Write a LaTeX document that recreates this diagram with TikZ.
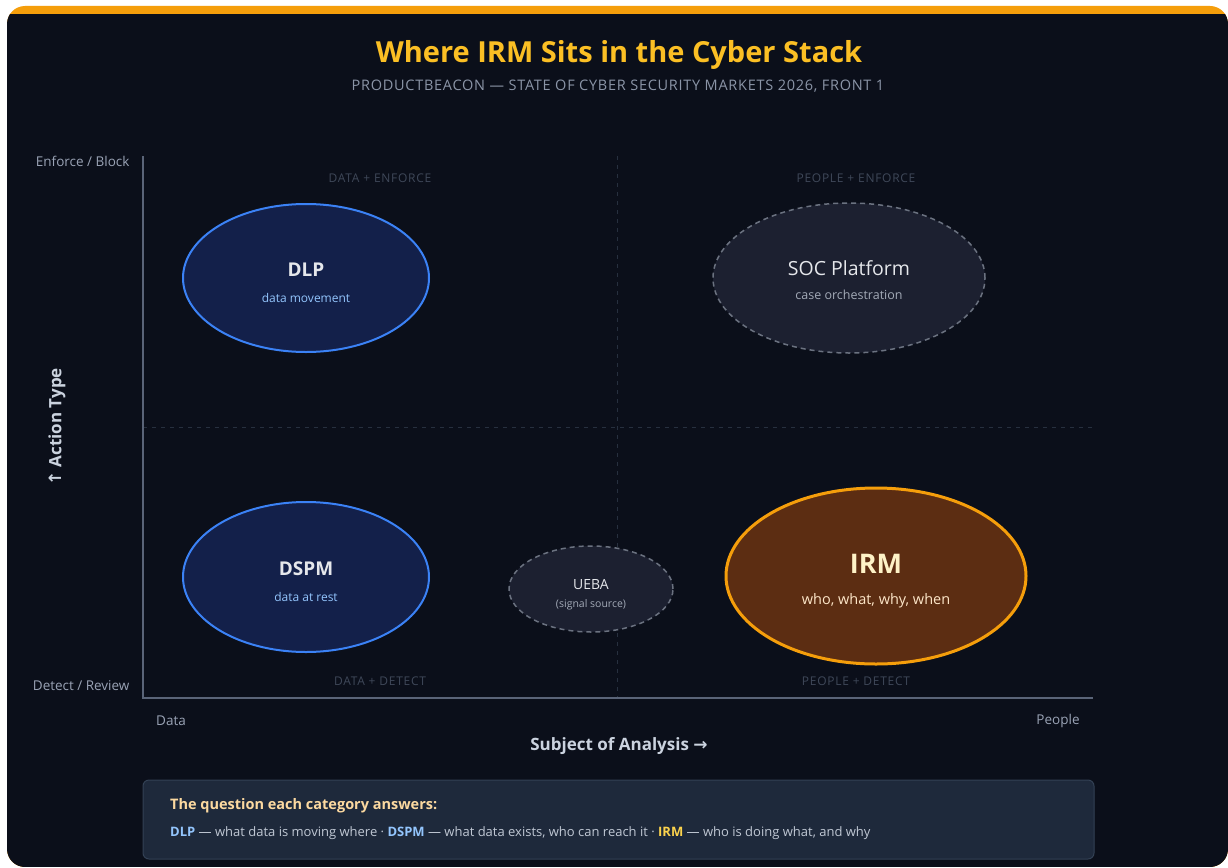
\documentclass[tikz,border=0pt]{standalone}
\usepackage{fontspec}
\setmainfont{Open Sans}
\newfontfamily\arrowfont{DejaVu Sans}
\usetikzlibrary{shapes.geometric}
\definecolor{cardbg}{HTML}{0B0F1A}
\definecolor{accent}{HTML}{F59E0B}
\definecolor{titlecol}{HTML}{FBBF24}
\definecolor{subcol}{HTML}{8B95A7}
\definecolor{axiscol}{HTML}{5A6478}
\definecolor{gridcol}{HTML}{27303F}
\definecolor{axlab}{HTML}{9AA3B5}
\definecolor{axtitle}{HTML}{CBD3DF}
\definecolor{quadcol}{HTML}{3F4859}
\definecolor{navyfill}{HTML}{13204A}
\definecolor{bluestroke}{HTML}{3B82F6}
\definecolor{lightblue}{HTML}{93C5FD}
\definecolor{grayfill}{HTML}{1C2030}
\definecolor{graystroke}{HTML}{6B7280}
\definecolor{graytext}{HTML}{A3AAB7}
\definecolor{headtext}{HTML}{E5E7EB}
\definecolor{brownfill}{HTML}{5C2D12}
\definecolor{cream}{HTML}{FEF3C7}
\definecolor{creamsub}{HTML}{FDE6C8}
\definecolor{boxfill}{HTML}{1E293B}
\definecolor{boxstroke}{HTML}{334155}
\definecolor{peach}{HTML}{FCD9A0}
\definecolor{boxtext}{HTML}{C0C8D4}
\definecolor{irmtext}{HTML}{FCD34D}
\tikzset{
  bubble/.style={ellipse, inner sep=0pt},
  bluebubble/.style={bubble, fill=navyfill, draw=bluestroke, line width=2pt},
  graybubble/.style={bubble, fill=grayfill, draw=graystroke, line width=1.5pt, dash pattern=on 5pt off 4pt},
  quad/.style={text=quadcol, font=\fontsize{12}{12}\selectfont\addfontfeatures{LetterSpace=6}},
  axlabel/.style={text=axlab, font=\fontsize{13.5}{14}\selectfont},
  midline/.style={draw=gridcol, line width=1pt, dash pattern=on 4pt off 5pt},
  axisline/.style={draw=axiscol, line width=2pt},
}
\begin{document}
\begin{tikzpicture}[x=1pt,y=-1pt]
\useasboundingbox (0,0) rectangle (1228,867);
\fill[white] (0,0) rectangle (1228,867);
\begin{scope}
  \clip[rounded corners=18pt] (7,6) rectangle (1228,867);
  \fill[accent] (0,0) rectangle (1228,867);
  \fill[cardbg] (0,14) rectangle (1228,867);
\end{scope}

% title
\node[text=titlecol, font=\fontsize{29}{30}\selectfont\bfseries] (title) at (619,55) {Where IRM Sits in the Cyber Stack};
\node[text=subcol, font=\fontsize{14.5}{15}\selectfont\addfontfeatures{LetterSpace=5}] (subtitle) at (618,86) {PRODUCTBEACON — STATE OF CYBER SECURITY MARKETS 2026, FRONT 1};

% grid
\coordinate (vtop) at (617,156);
\coordinate (vbot) at (617,698);
\coordinate (hl) at (143,427);
\coordinate (hr) at (1093,427);
\draw[midline] (vtop) -- (vbot);
\draw[midline] (hl) -- (hr);
\coordinate (ytop) at (143,156);
\coordinate (orig) at (143,698);
\coordinate (xend) at (1093,698);
\draw[axisline] (ytop) -- (orig) -- (xend);

% axis labels
\node[axlabel, anchor=east] (enf) at (133,161) {Enforce / Block};
\node[axlabel, anchor=east] (det) at (133,686) {Detect / Review};
\node[text=axtitle, font=\fontsize{17}{17}\selectfont\bfseries, rotate=90] (ytitle) at (57,427) {{\arrowfont ↑} Action Type};
\node[axlabel] (xdata) at (171,721) {Data};
\node[axlabel] (xpeople) at (1058,721) {People};
\node[text=axtitle, font=\fontsize{17}{17}\selectfont\bfseries] (xtitle) at (619,746) {Subject of Analysis {\arrowfont →}};

% quadrant labels
\node[quad] (q1) at (380,178) {DATA + ENFORCE};
\node[quad] (q2) at (856,178) {PEOPLE + ENFORCE};
\node[quad] (q3) at (380,681) {DATA + DETECT};
\node[quad] (q4) at (856,681) {PEOPLE + DETECT};

% bubbles
\node[bluebubble, minimum width=246pt, minimum height=148pt] (dlp) at (306,278) {};
\node[text=headtext, font=\fontsize{19}{19}\selectfont\bfseries] (dlpT) at (306,270) {DLP};
\node[text=lightblue, font=\fontsize{12}{12}\selectfont] (dlpS) at (306,298) {data movement};

\node[graybubble, minimum width=272pt, minimum height=150pt] (soc) at (849,278) {};
\node[text=headtext, font=\fontsize{19.5}{20}\selectfont] (socT) at (849,268) {SOC Platform};
\node[text=graytext, font=\fontsize{12.5}{13}\selectfont] (socS) at (849,295) {case orchestration};

\node[bluebubble, minimum width=246pt, minimum height=150pt] (dspm) at (306,577) {};
\node[text=headtext, font=\fontsize{19}{19}\selectfont\bfseries] (dspmT) at (306,569) {DSPM};
\node[text=lightblue, font=\fontsize{12}{12}\selectfont] (dspmS) at (306,597) {data at rest};

\node[graybubble, minimum width=164pt, minimum height=86pt] (ueba) at (591,589) {};
\node[text=headtext, font=\fontsize{14}{14}\selectfont] (uebaT) at (591,585) {UEBA};
\node[text=graytext, font=\fontsize{10.5}{11}\selectfont] (uebaS) at (591,605) {(signal source)};

\node[bubble, fill=brownfill, draw=accent, line width=3pt, minimum width=300pt, minimum height=176pt] (irm) at (876,576) {};
\node[text=cream, font=\fontsize{27}{27}\selectfont\bfseries] (irmT) at (876,564) {IRM};
\node[text=creamsub, font=\fontsize{14.5}{15}\selectfont] (irmS) at (876,601) {who, what, why, when};

% bottom box
\node[draw=boxstroke, fill=boxfill, line width=1pt, rounded corners=6pt, minimum width=951pt, minimum height=79pt, inner sep=0pt] (box) at (618.5,819.5) {};
\node[anchor=west, inner sep=0pt, text=peach, font=\fontsize{14.5}{15}\selectfont\bfseries] (boxT) at (170,806) {The question each category answers:};
\node[anchor=west, inner sep=0pt, text=boxtext, font=\fontsize{13}{13}\selectfont] (boxS) at (170,833) {\textcolor{lightblue}{\bfseries DLP} — what data is moving where · \textcolor{lightblue}{\bfseries DSPM} — what data exists, who can reach it · \textcolor{irmtext}{\bfseries IRM} — who is doing what, and why};
\end{tikzpicture}
\end{document}
